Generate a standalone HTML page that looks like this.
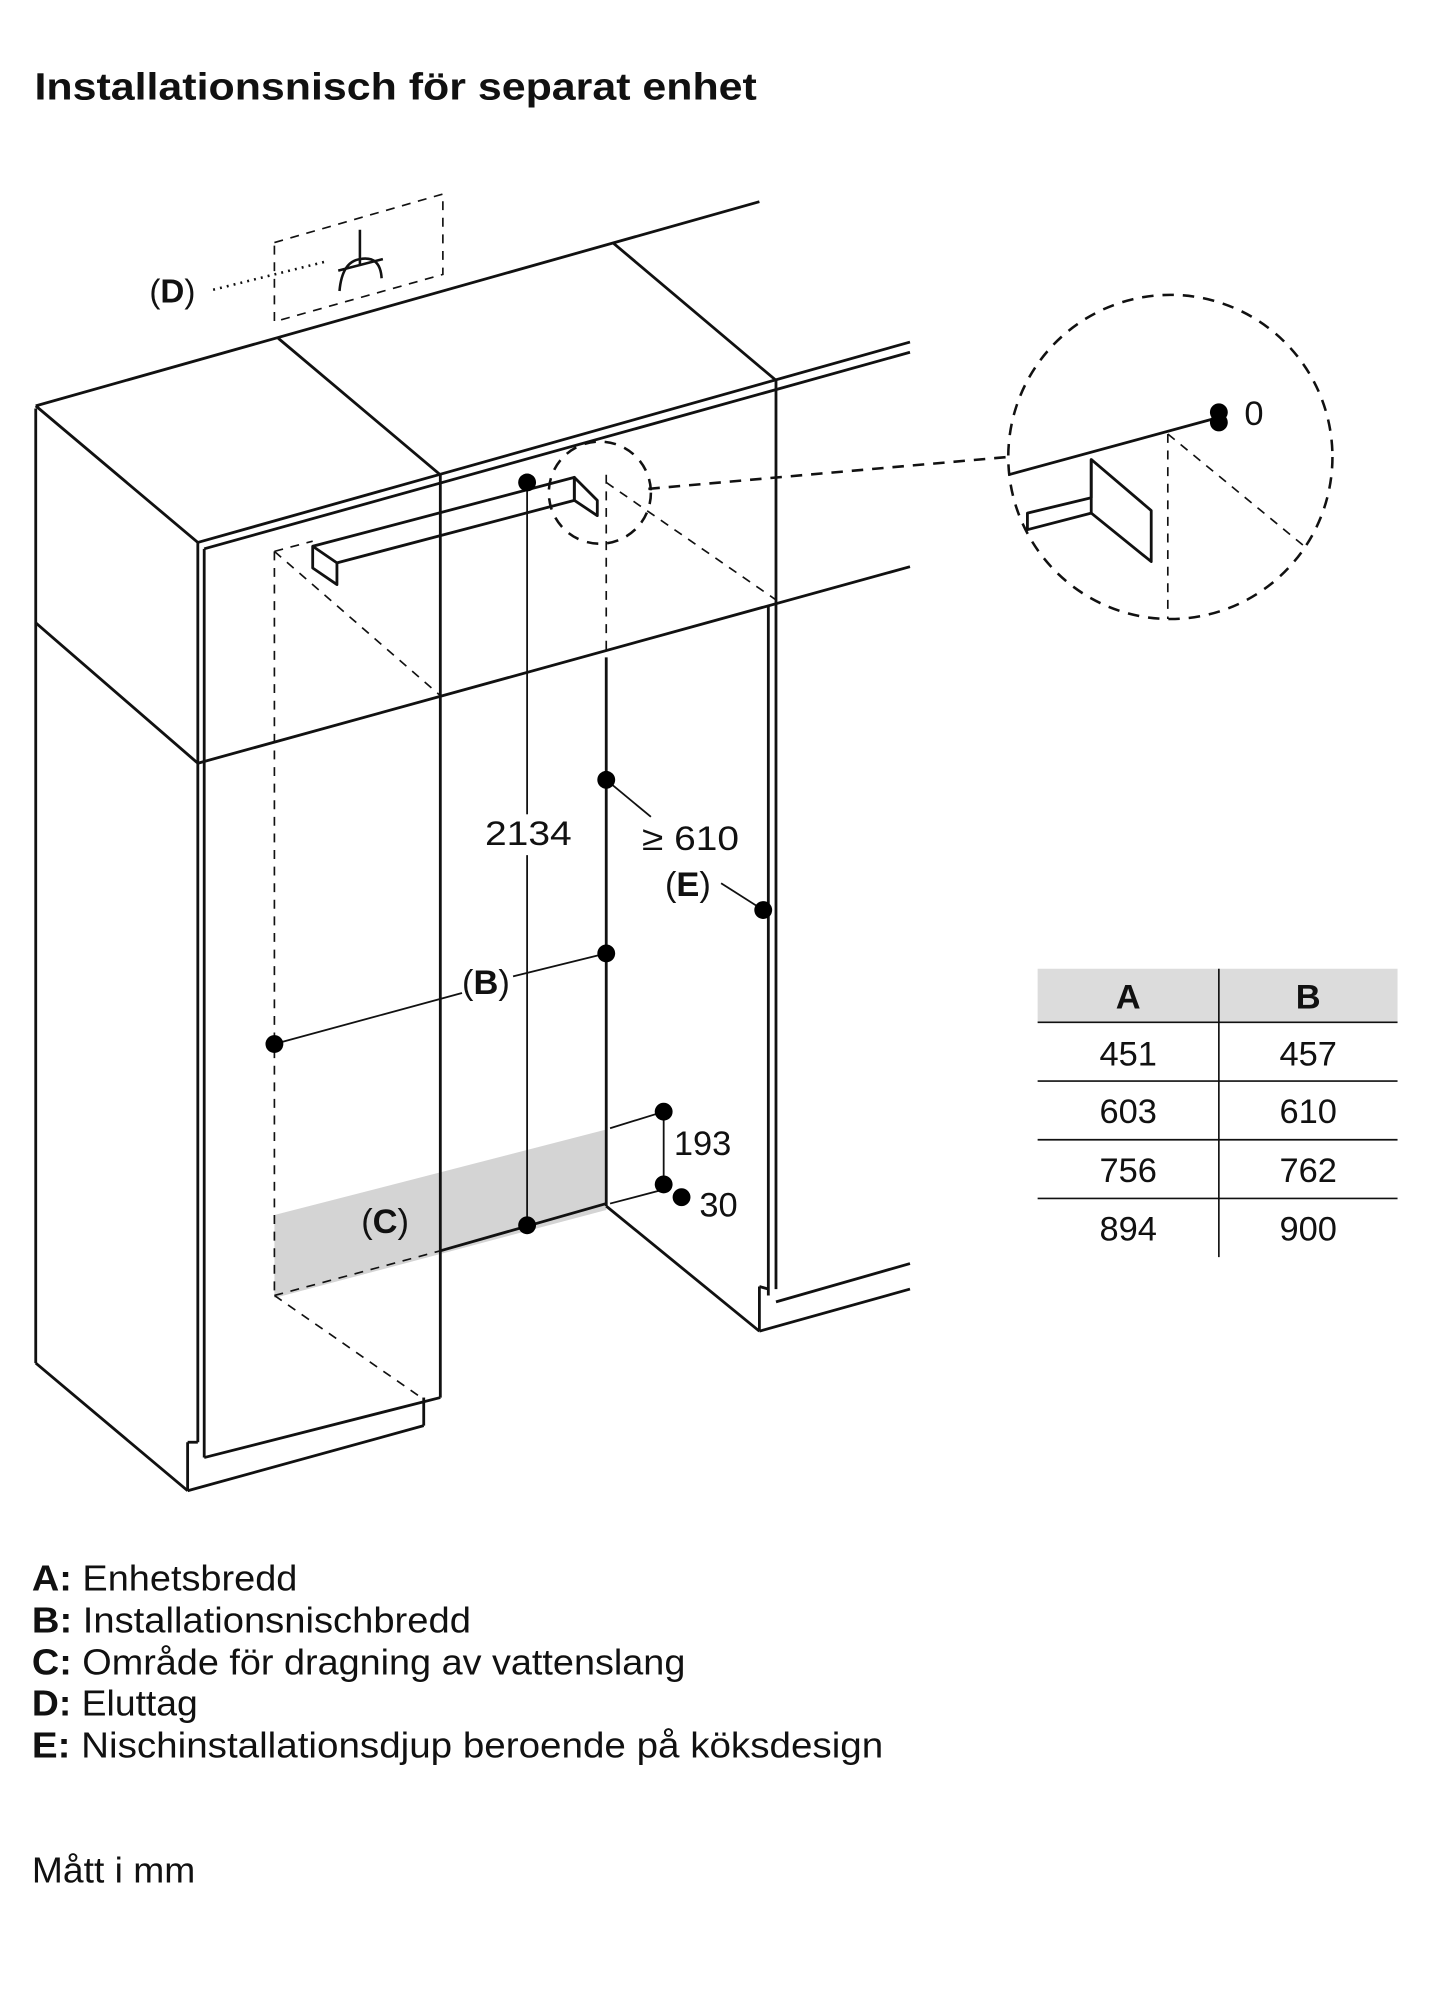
<!DOCTYPE html>
<html><head><meta charset="utf-8"><style>
html,body{margin:0;padding:0;background:#fff;}
svg{display:block;}
text{font-family:"Liberation Sans",sans-serif;fill:#111;}
</style></head><body>
<svg width="1432" height="2000" viewBox="0 0 1122 1567" xmlns="http://www.w3.org/2000/svg">
<text x="27" y="78" font-size="30" font-weight="bold" textLength="566" lengthAdjust="spacingAndGlyphs">Installationsnisch för separat enhet</text>
<!-- gray band C -->
<polygon points="215,952 475,885 475,948 215,1017" fill="#d4d4d4"/>
<g stroke="#111" stroke-width="2.2" fill="none" stroke-linejoin="round">
<line x1="28" y1="318" x2="595" y2="158"/>
<line x1="218" y1="265" x2="345" y2="372"/>
<line x1="480" y1="190" x2="608" y2="298"/>
<line x1="28" y1="318" x2="155" y2="425"/>
<line x1="155" y1="425" x2="713" y2="268"/>
<line x1="160" y1="430" x2="713" y2="276"/>
<line x1="28" y1="320" x2="28" y2="1068"/>
<line x1="155" y1="425" x2="155" y2="1130"/>
<line x1="160" y1="430" x2="160" y2="1142"/>
<line x1="28" y1="488" x2="155" y2="598"/>
<line x1="155" y1="598" x2="713" y2="444"/>
<line x1="345" y1="372" x2="345" y2="1095"/>
<line x1="608" y1="298" x2="608" y2="1010"/>
<line x1="602" y1="475" x2="602" y2="1015"/>
<line x1="475" y1="515" x2="475" y2="945"/>
<line x1="28" y1="1068" x2="147" y2="1168"/>
<line x1="147" y1="1168" x2="332" y2="1117"/>
<line x1="332" y1="1117" x2="332" y2="1095"/>
<line x1="160" y1="1142" x2="345" y2="1095"/>
<line x1="147" y1="1168" x2="147" y2="1130"/>
<line x1="147" y1="1130" x2="155" y2="1130"/>
<line x1="345" y1="980" x2="475" y2="943"/>
<line x1="475" y1="945" x2="595" y2="1043"/>
<line x1="595" y1="1043" x2="713" y2="1010"/>
<line x1="595" y1="1043" x2="595" y2="1008"/>
<line x1="595" y1="1008" x2="602" y2="1010"/>
<line x1="608" y1="1020" x2="713" y2="990"/>
<polygon points="245,428 450,374 450,392 264,441 264,458 245,445"/>
<line x1="245" y1="428" x2="264" y2="441"/>
<polygon points="450,374 468,392 468,404 450,392"/>
<line x1="790" y1="372" x2="955" y2="327"/>
<polygon points="805,402 855,390 855,360 902,400 902,440 855,402 805,415"/>
<line x1="855" y1="402" x2="855" y2="360"/>
</g>
<g stroke="#111" stroke-width="1.3" fill="none" stroke-dasharray="7,6">
<polygon points="215,190 347,152 347,215 215,252"/>
<line x1="215" y1="432" x2="215" y2="1015"/>
<line x1="215" y1="432" x2="345" y2="545"/>
<line x1="215" y1="432" x2="245" y2="424"/>
<line x1="475" y1="372" x2="475" y2="515"/>
<line x1="475" y1="378" x2="608" y2="470"/>
<line x1="215" y1="1015" x2="330" y2="1095"/>
<line x1="215" y1="1015" x2="345" y2="980"/>
<line x1="915" y1="340" x2="915" y2="485"/>
<line x1="915" y1="340" x2="1022" y2="428"/>
</g>
<g stroke="#111" stroke-width="2" fill="none" stroke-dasharray="9,7">
<circle cx="470" cy="386" r="40"/>
<circle cx="917" cy="358" r="127"/>
<line x1="508" y1="383" x2="790" y2="358"/>
</g>
<g stroke="#111" stroke-width="2" fill="none">
<line x1="282" y1="180" x2="282" y2="207"/>
<line x1="265" y1="212" x2="300" y2="203"/>
<path d="M266,228 Q268,205 282,203 Q298,200 299,218"/>
</g>
<line x1="167" y1="227" x2="255" y2="205" stroke="#111" stroke-width="2" stroke-dasharray="1.5,4"/>
<text x="117" y="237" font-size="26">(<tspan font-weight="bold">D</tspan>)</text>
<g stroke="#111" stroke-width="1.4">
<line x1="413" y1="378" x2="413" y2="960"/>
<line x1="215" y1="818" x2="362" y2="778"/>
<line x1="402" y1="765" x2="475" y2="747"/>
<line x1="475" y1="611" x2="510" y2="640"/>
<line x1="598" y1="713" x2="565" y2="692"/>
<line x1="478" y1="884" x2="520" y2="871"/>
<line x1="478" y1="943" x2="520" y2="932"/>
<line x1="520" y1="871" x2="520" y2="928"/>
</g>
<rect x="378" y="638" width="72" height="32" fill="#fff"/>
<g fill="#000">
<circle cx="413" cy="378" r="7"/><circle cx="413" cy="960" r="7"/>
<circle cx="475" cy="611" r="7"/><circle cx="475" cy="747" r="7"/>
<circle cx="215" cy="818" r="7"/><circle cx="598" cy="713" r="7"/>
<circle cx="520" cy="871" r="7"/><circle cx="520" cy="928" r="7"/>
<circle cx="534" cy="938" r="7"/>
<circle cx="955" cy="323" r="7"/><circle cx="955" cy="331" r="7"/>
</g>
<g font-size="27">
<text x="380" y="662" textLength="68" lengthAdjust="spacingAndGlyphs">2134</text>
<text x="503" y="666" textLength="76" lengthAdjust="spacingAndGlyphs">≥ 610</text>
<text x="521" y="702">(<tspan font-weight="bold">E</tspan>)</text>
<text x="362" y="779">(<tspan font-weight="bold">B</tspan>)</text>
<text x="283" y="966">(<tspan font-weight="bold">C</tspan>)</text>
<text x="528" y="905">193</text>
<text x="548" y="953">30</text>
<text x="975" y="333">0</text>
</g>
<rect x="813" y="759" width="282" height="42" fill="#dcdcdc"/>
<g stroke="#111" stroke-width="1.3">
<line x1="813" y1="801" x2="1095" y2="801"/>
<line x1="813" y1="847" x2="1095" y2="847"/>
<line x1="813" y1="893" x2="1095" y2="893"/>
<line x1="813" y1="939" x2="1095" y2="939"/>
<line x1="955" y1="759" x2="955" y2="985"/>
</g>
<g font-size="27" text-anchor="middle">
<text x="884" y="790" font-weight="bold">A</text><text x="1025" y="790" font-weight="bold">B</text>
<text x="884" y="835">451</text><text x="1025" y="835">457</text>
<text x="884" y="880">603</text><text x="1025" y="880">610</text>
<text x="884" y="926">756</text><text x="1025" y="926">762</text>
<text x="884" y="972">894</text><text x="1025" y="972">900</text>
</g>
<g font-size="28">
<text x="25" y="1246" textLength="208" lengthAdjust="spacingAndGlyphs"><tspan font-weight="bold">A:</tspan> Enhetsbredd</text>
<text x="25" y="1279" textLength="344" lengthAdjust="spacingAndGlyphs"><tspan font-weight="bold">B:</tspan> Installationsnischbredd</text>
<text x="25" y="1312" textLength="512" lengthAdjust="spacingAndGlyphs"><tspan font-weight="bold">C:</tspan> Område för dragning av vattenslang</text>
<text x="25" y="1344" textLength="130" lengthAdjust="spacingAndGlyphs"><tspan font-weight="bold">D:</tspan> Eluttag</text>
<text x="25" y="1377" textLength="667" lengthAdjust="spacingAndGlyphs"><tspan font-weight="bold">E:</tspan> Nischinstallationsdjup beroende på köksdesign</text>
<text x="25" y="1475" textLength="128" lengthAdjust="spacingAndGlyphs">Mått i mm</text>
</g>
</svg>
</body></html>
